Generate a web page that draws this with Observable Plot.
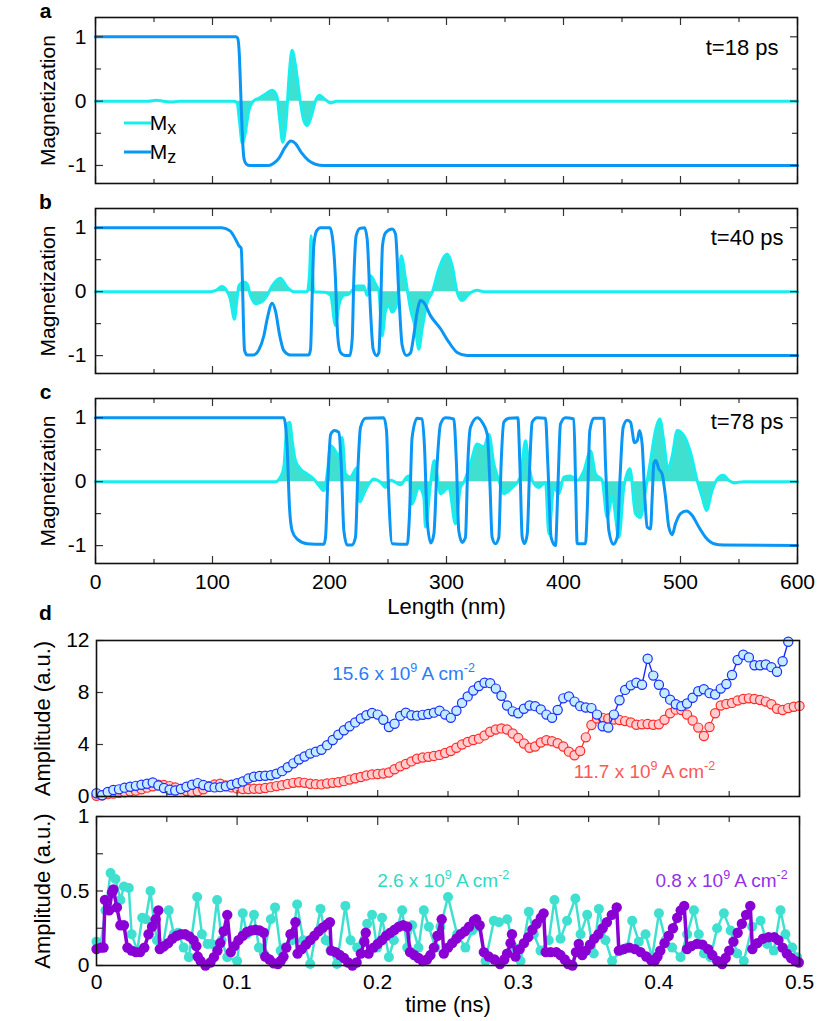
<!DOCTYPE html>
<html><head><meta charset="utf-8">
<script src="https://cdn.jsdelivr.net/npm/d3@7"></script>
<script src="https://cdn.jsdelivr.net/npm/@observablehq/plot@0.6"></script>
<style>
body{margin:0;background:#fff;}
#root{position:relative;width:821px;height:1021px;overflow:hidden;}
#root svg{position:absolute;left:0;}
</style></head><body><div id="root"></div>
<script>
// ---------------- data: panels a-c (length nm, magnetization) ----------------
const aMz = [[0,1],[120,1],[121.5,0.98],[123,0.7],[124,0.2],[125,-0.3],[126,-0.7],[127,-0.9],[129,-0.98],[132,-1],[148,-1],[152,-0.97],[157,-0.88],[162,-0.72],[167,-0.62],[171,-0.66],[176,-0.8],[182,-0.92],[188,-0.98],[195,-1],[600,-1]];
const aMx = [[0,0],[45,0],[52,0.015],[58,0],[65,-0.015],[72,0],[118,0],[121,-0.02],[123,-0.3],[125.5,-0.66],[128,-0.5],[131,-0.15],[135,0],[140,0.05],[146,0.12],[151,0.17],[155,0.08],[157.5,-0.3],[160,-0.64],[163,-0.3],[165.5,0.4],[168,0.79],[171,0.55],[175,0],[178,-0.3],[181,-0.38],[185,-0.2],[188,0],[191.5,0.09],[196,0.03],[201,-0.03],[206,0],[600,0]];

const bMz = [[0,1],[108,1],[115,0.95],[119.7,0.82],[122.5,0.72],[124.5,0.68],[127.4,-0.92],[129.6,-0.99],[135,-0.99],[139.6,-0.91],[143.9,-0.69],[146.7,-0.43],[151,-0.18],[153.8,-0.3],[157.5,-0.69],[160.9,-0.92],[166.7,-0.99],[182.3,-0.99],[183.8,-0.9],[185.2,-0.06],[186.6,0.72],[189,0.95],[192.3,1],[200.3,1],[202.3,0.875],[205.1,0.2],[207,-0.69],[209.4,-0.95],[213.7,-1],[217.4,-1],[219.4,-0.74],[220.8,0.2],[222.8,0.875],[226,0.99],[230,1],[232.2,0.82],[235.1,-0.32],[237.3,-0.9],[240.2,-1],[242.2,-0.95],[243.6,-0.32],[245.3,0.72],[247.9,0.92],[253.6,0.98],[256.4,0.9],[259.3,-0.06],[262.1,-0.84],[265.8,-1],[269.2,-0.96],[272,-0.69],[274.9,-0.32],[277.8,-0.14],[280.6,-0.17],[286.3,-0.375],[294.9,-0.58],[302,-0.79],[309.1,-0.95],[317.7,-1],[600,-1]];
const bMx = [[0,0],[98.3,0],[103,0.02],[108,0.08],[112,0.02],[115,-0.1],[118.8,-0.43],[120.5,-0.2],[122.5,0.09],[126.8,0.15],[129.6,0.12],[132.5,-0.06],[136.8,-0.19],[141,-0.17],[146.7,-0.06],[151,0.09],[158,0.21],[163.8,0.07],[169.5,0],[180.9,0],[183,0.3],[184.3,0.875],[185.5,0.3],[186.5,0],[195.7,-0.01],[201,-0.06],[205.1,-0.53],[208,-0.22],[212,-0.06],[216.4,-0.04],[223.6,0.09],[229.3,0.09],[232.2,-0.06],[235.1,0.25],[239.3,0.12],[242.2,0],[245,-0.69],[247.9,-0.3],[250.7,-0.22],[253.6,-0.32],[257.8,-0.17],[261.3,0.56],[265,0.2],[269.2,-0.27],[273.5,-0.58],[276.3,-0.9],[279.2,-0.58],[283.5,-0.17],[287.8,-0.01],[293.4,0.35],[300.6,0.59],[304.8,0.41],[309.1,-0.01],[313.4,-0.14],[319,-0.04],[326.2,0.02],[332,0],[600,0]];

const cMz = [[0,1],[160.9,1],[163.8,0.54],[165.8,-0.4],[168.1,-0.77],[172.4,-0.9],[180.9,-0.97],[195.2,-0.98],[196.6,-0.87],[198.6,0.02],[201,0.74],[204.3,0.8],[208,0.77],[210,0.28],[212.3,-0.77],[215.1,-0.99],[219.4,-0.99],[222.2,-0.87],[224.5,0.28],[226.5,0.85],[230.8,0.99],[246.4,1],[248.7,0.8],[250.7,-0.24],[253.6,-0.97],[266.5,-0.98],[268.4,-0.5],[270.6,0.69],[274.9,0.99],[279.2,0.98],[281.2,0.54],[283.5,-0.61],[286.6,-0.96],[289.2,-0.82],[292,0.28],[294.9,0.9],[299.1,1],[306.2,0.98],[308.5,0.28],[310.5,-0.77],[313.4,-0.95],[316.2,-0.87],[318.2,0.28],[320.5,0.85],[326.2,1],[330.5,0.93],[334.8,0.74],[337,0.02],[339,-0.87],[341.9,-0.97],[344.7,-0.87],[346.7,0.28],[349,0.93],[353.3,0.99],[361,1],[362.7,0.28],[364.7,-0.87],[366.7,-0.97],[369,-0.82],[371.2,0.28],[373.2,0.93],[377.5,1],[384.6,0.99],[386.6,0.28],[389.4,-0.87],[393.1,-1],[395.4,0.02],[397.4,0.9],[401.7,1],[408.8,0.98],[410.3,0.02],[411.7,-0.97],[418.8,-0.97],[420.2,-0.5],[422.5,0.8],[425.9,0.99],[434.5,0.99],[435.9,0.28],[438.8,-0.77],[442.5,-0.98],[445.9,-0.87],[448.2,0.02],[451,0.85],[454.4,0.96],[457.3,0.93],[460.7,0.61],[463,0.64],[465,0.8],[467.2,0.59],[469.5,-0.24],[471.5,-0.71],[474.4,-0.74],[475.8,-0.24],[477.2,0.28],[478.9,0.33],[481.5,0.2],[484.3,0.12],[487.2,-0.24],[490,-0.71],[492.9,-0.83],[495.7,-0.66],[500,-0.5],[505.1,-0.46],[510,-0.53],[515.7,-0.71],[521.4,-0.87],[528.5,-0.97],[537.1,-0.99],[600,-1]];
const cMx = [[0,0],[153.8,0],[158,0.07],[160.9,0.22],[163.8,0.9],[166,0.93],[168.1,0.64],[170.9,0.33],[175.2,0.2],[180.9,0.12],[186.6,0.04],[190.9,-0.06],[195.2,-0.14],[198,0.12],[201,0.56],[205.1,0.48],[208,0.38],[210.8,0.69],[213.7,0.12],[218,0.07],[220.8,0.15],[223.6,0.22],[225.9,-0.32],[229.3,-0.19],[233.6,-0.04],[237.9,0.04],[243.6,-0.01],[247.9,-0.09],[252.1,0.02],[256.4,-0.01],[260.7,-0.05],[265.8,0.07],[267.8,0.09],[270.6,-0.35],[276.3,-0.09],[280.6,-0.24],[282,-0.71],[286.3,-0.04],[289.5,0.33],[294.9,-0.19],[302,-0.09],[307.7,-0.66],[312,-0.09],[314.8,-0.01],[320.5,0.28],[326.2,0.59],[332,0.54],[336.2,0.74],[340.5,0.28],[344.8,0.02],[349,-0.19],[356.2,-0.09],[363.2,0.07],[367.5,0.64],[370.3,0.28],[373.2,0.02],[379,-0.09],[384.6,-0.01],[387.5,-0.82],[391.7,-0.09],[396,-0.19],[400.3,0.07],[406,0.09],[411.7,0.02],[417.4,0.17],[423.1,0.48],[427.4,0.12],[433,0.02],[437.3,-0.56],[441.6,-0.24],[447.4,-0.87],[451.6,-0.09],[456.8,0.2],[461.5,-0.5],[465.8,-0.56],[470.1,-0.14],[474.4,0.33],[478.6,0.8],[482.3,0.98],[485.7,0.64],[489.2,0.2],[492.9,0.4],[497.2,0.8],[502.9,0.72],[508.5,0.46],[514.2,0.02],[518.5,-0.24],[522.2,-0.45],[527,-0.14],[531.3,0.04],[536.5,0.1],[541.3,0.02],[545.6,-0.02],[554,0],[600,0]];

// ---------------- data: panel d ----------------
const dStep = 0.004; // sampling of the amplitude traces (ns)
const amp156 = [0.25,0.1,0.35,0.5,0.55,0.68,0.75,0.82,0.9,0.98,
1.08,0.85,0.65,0.52,0.46,0.58,0.75,0.9,1.03,0.88,
0.75,0.7,0.72,0.78,0.9,1.02,1.15,1.38,1.52,1.58,
1.6,1.63,1.75,1.95,2.25,2.55,2.85,3.08,3.3,3.45,
3.6,3.95,4.35,4.75,5.1,5.4,5.7,6.0,6.25,6.42,
6.3,5.9,5.35,5.6,6.2,6.45,6.25,6.22,6.28,6.35,
6.45,6.6,6.3,6.05,6.6,7.2,7.7,8.15,8.5,8.75,
8.72,8.3,7.75,7.0,6.55,6.4,6.75,7.0,6.95,6.7,
6.3,6.05,6.65,7.55,7.7,7.3,6.95,6.85,6.8,6.3,
5.4,5.3,6.3,7.4,8.2,8.55,8.75,8.6,10.6,9.3,
8.6,7.95,7.45,7.1,6.95,7.15,7.6,8.1,8.25,7.95,
7.85,8.3,8.65,9.35,10.5,10.9,10.7,10.1,10.1,10.15,
9.95,9.6,10.4,11.9];
const amp117 = [0.05,0.1,0.18,0.22,0.28,0.33,0.4,0.45,0.55,0.68,
0.78,0.9,0.88,0.8,0.7,0.58,0.42,0.33,0.4,0.55,
0.8,0.92,0.98,0.85,0.7,0.62,0.58,0.58,0.6,0.6,
0.65,0.72,0.8,0.87,0.97,1.05,1.1,1.05,0.98,0.95,
0.93,1.0,1.05,1.1,1.18,1.3,1.4,1.5,1.62,1.7,
1.73,1.77,1.85,2.1,2.32,2.5,2.7,2.9,3.0,3.05,
3.12,3.2,3.35,3.5,3.75,4.0,4.2,4.35,4.45,4.7,
4.98,5.15,5.24,5.15,4.85,4.5,4.08,3.75,3.85,4.15,
4.33,4.25,4.1,3.85,3.45,3.17,3.5,4.55,5.5,6.0,
6.05,6.0,5.92,5.88,5.8,5.7,5.52,5.55,5.58,5.52,
5.55,5.9,6.4,6.68,6.65,6.3,5.85,5.3,4.65,5.35,
6.4,7.0,7.12,7.2,7.38,7.5,7.55,7.5,7.42,7.3,
7.1,6.75,6.65,6.8,6.9,6.97];
const amp26 = [[0,0.16],[0.003,0.145],[0.0064,0.37],[0.010,0.62],[0.0135,0.58],[0.017,0.44],[0.0195,0.53],[0.023,0.52],[0.025,0.21],[0.029,0.1],[0.0325,0.32],[0.035,0.31],[0.0384,0.5],[0.041,0.28],[0.043,0.17],[0.047,0.12],[0.0514,0.37],[0.055,0.21],[0.058,0.22],[0.062,0.12],[0.0657,0.056],[0.0716,0.46],[0.075,0.21],[0.079,0.145],[0.082,0.145],[0.0858,0.44],[0.089,0.17],[0.093,0.056],[0.1,0.03],[0.104,0.35],[0.107,0.21],[0.112,0.34],[0.1155,0.12],[0.119,0.08],[0.124,0.31],[0.127,0.39],[0.131,0.10],[0.134,0.12],[0.1392,0.17],[0.1427,0.41],[0.147,0.17],[0.152,0.01],[0.1593,0.38],[0.163,0.17],[0.1664,0.10],[0.171,0.01],[0.177,0.40],[0.1807,0.17],[0.1854,0.12],[0.1925,0.28],[0.196,0.34],[0.1996,0.12],[0.2031,0.32],[0.208,0.056],[0.2115,0.17],[0.2174,0.37],[0.221,0.12],[0.2245,0.27],[0.229,0.12],[0.2328,0.37],[0.2364,0.26],[0.241,0.12],[0.2446,0.26],[0.25,0.46],[0.2565,0.21],[0.2624,0.12],[0.2672,0.235],[0.272,0.26],[0.2767,0.03],[0.2826,0.30],[0.2862,0.29],[0.2921,0.31],[0.2968,0.12],[0.3016,0.03],[0.3075,0.36],[0.311,0.21],[0.3158,0.10],[0.3217,0.17],[0.3257,0.44],[0.33,0.18],[0.3347,0.30],[0.3406,0.45],[0.3443,0.21],[0.349,0.34],[0.3537,0.08],[0.3573,0.38],[0.362,0.17],[0.3667,0.03],[0.3727,0.10],[0.3774,0.12],[0.381,0.30],[0.3857,0.16],[0.3905,0.21],[0.3952,0.056],[0.4,0.35],[0.4047,0.17],[0.4094,0.12],[0.4154,0.056],[0.4201,0.21],[0.4249,0.37],[0.4284,0.21],[0.432,0.08],[0.4367,0.056],[0.4414,0.25],[0.4462,0.35],[0.451,0.235],[0.4557,0.08],[0.4604,0.03],[0.4663,0.26],[0.4723,0.30],[0.477,0.145],[0.4817,0.10],[0.4865,0.37],[0.49,0.21],[0.4948,0.12],[0.4983,0.056]];
const amp08 = [[0,0.11],[0.003,0.12],[0.005,0.12],[0.006,0.44],[0.009,0.37],[0.011,0.49],[0.012,0.51],[0.0145,0.39],[0.017,0.27],[0.0195,0.27],[0.022,0.12],[0.025,0.10],[0.028,0.09],[0.031,0.09],[0.034,0.12],[0.037,0.21],[0.0395,0.26],[0.042,0.31],[0.044,0.37],[0.045,0.11],[0.048,0.13],[0.051,0.15],[0.054,0.18],[0.057,0.20],[0.060,0.21],[0.063,0.21],[0.066,0.195],[0.069,0.17],[0.071,0.13],[0.072,0.06],[0.074,0.03],[0.0775,0.0],[0.081,0.02],[0.0835,0.056],[0.086,0.10],[0.088,0.15],[0.0905,0.23],[0.093,0.34],[0.0955,0.09],[0.098,0.13],[0.101,0.17],[0.104,0.2],[0.107,0.225],[0.110,0.235],[0.113,0.24],[0.116,0.235],[0.119,0.22],[0.120,0.06],[0.123,0.04],[0.126,0.015],[0.129,0.01],[0.131,0.03],[0.133,0.06],[0.135,0.12],[0.138,0.21],[0.1415,0.29],[0.143,0.08],[0.146,0.11],[0.149,0.14],[0.152,0.17],[0.155,0.20],[0.158,0.23],[0.161,0.255],[0.164,0.275],[0.166,0.29],[0.167,0.10],[0.170,0.09],[0.173,0.07],[0.176,0.05],[0.179,0.02],[0.182,0.0],[0.185,0.02],[0.188,0.08],[0.1905,0.16],[0.1915,0.22],[0.1935,0.08],[0.197,0.12],[0.200,0.145],[0.203,0.17],[0.206,0.2],[0.209,0.22],[0.212,0.24],[0.215,0.26],[0.218,0.27],[0.221,0.26],[0.223,0.09],[0.226,0.07],[0.229,0.05],[0.232,0.03],[0.235,0.04],[0.2375,0.07],[0.240,0.12],[0.2425,0.2],[0.2455,0.31],[0.247,0.08],[0.250,0.12],[0.253,0.15],[0.256,0.18],[0.259,0.21],[0.262,0.23],[0.265,0.26],[0.2685,0.30],[0.270,0.31],[0.2725,0.27],[0.2755,0.09],[0.279,0.06],[0.283,0.04],[0.287,0.01],[0.290,0.04],[0.292,0.08],[0.2945,0.15],[0.2955,0.21],[0.298,0.06],[0.301,0.11],[0.304,0.15],[0.307,0.19],[0.310,0.24],[0.313,0.28],[0.316,0.32],[0.318,0.35],[0.3195,0.09],[0.323,0.09],[0.327,0.09],[0.330,0.07],[0.333,0.04],[0.3355,0.01],[0.3385,0.0],[0.341,0.09],[0.343,0.145],[0.3455,0.07],[0.348,0.10],[0.351,0.14],[0.354,0.18],[0.357,0.21],[0.360,0.25],[0.363,0.29],[0.3665,0.34],[0.370,0.39],[0.3715,0.10],[0.375,0.11],[0.379,0.12],[0.383,0.11],[0.387,0.09],[0.391,0.06],[0.3945,0.035],[0.397,0.03],[0.399,0.06],[0.401,0.10],[0.404,0.15],[0.407,0.2],[0.410,0.25],[0.413,0.32],[0.4155,0.37],[0.418,0.40],[0.420,0.11],[0.423,0.13],[0.427,0.145],[0.431,0.14],[0.435,0.11],[0.438,0.07],[0.4415,0.03],[0.445,0.01],[0.4475,0.05],[0.450,0.10],[0.453,0.16],[0.456,0.22],[0.459,0.28],[0.462,0.34],[0.465,0.40],[0.4665,0.11],[0.470,0.15],[0.474,0.18],[0.478,0.19],[0.482,0.19],[0.485,0.17],[0.488,0.12],[0.491,0.08],[0.494,0.05],[0.497,0.03],[0.4995,0.02]];

// ---------------- tick values / labels ----------------
const lenLabels = [0,100,200,300,400,500,600];
const lenMinor = [50,150,250,350,450,550];
const magLabels = [-1,0,1];
const magMinor = [-0.5,0.5];
const timeLabels = [0,0.1,0.2,0.3,0.4,0.5];
const timeMinor = [0.05,0.15,0.25,0.35,0.45];
const ampTopLabels = [0,4,8,12];
const ampBotLabels = [0,0.5,1];
const ampBotMinor = [0.25,0.75];

// ---------------- drawing ----------------
const FONT = '"Liberation Sans", Arial, Helvetica, sans-serif';
const W = 821;
const root = document.getElementById("root");
const X = d => d[0], Y = d => d[1];
const C_MX = "#19eeee", C_MZ = "#0a96f5", C_FILL = "#40e0d0";
const MID = {textAnchor: "middle", lineAnchor: "middle"};

function place(svg, top){ svg.style.top = top + "px"; root.appendChild(svg); return svg; }
function tk(axis, anchor, values, size){
  const f = axis === "x" ? Plot.axisX : Plot.axisY;
  return f(values, {anchor, tickSize: -size, tickFormat: () => "", label: null, stroke: "#333", strokeWidth: 1.2});
}
function applySup(svg, fs){
  d3.select(svg).selectAll("text").each(function(){
    const s = this.textContent;
    if (!s.includes("^{")) return;
    const parts = s.split(/\^\{([^}]*)\}/);
    this.textContent = "";
    let raised = false;
    parts.forEach((p, i) => {
      if (!p) return;
      const ts = document.createElementNS("http://www.w3.org/2000/svg", "tspan");
      if (i % 2) { ts.setAttribute("font-size", fs * 0.66); ts.setAttribute("dy", -0.42 * fs); raised = true; }
      else if (raised) { ts.setAttribute("dy", 0.42 * fs); raised = false; }
      ts.textContent = p;
      this.appendChild(ts);
    });
  });
}

function magPanel({mz, mx, letter, tlabel, tdx, tdy, height, mt, mb, showX}){
  const marks = [
    Plot.areaY(mx, {x: X, y1: 0, y2: Y, fill: C_FILL, curve: "monotone-x"}),
    Plot.line(mx, {x: X, y: Y, stroke: C_MX, strokeWidth: 3, curve: "monotone-x"}),
    Plot.line(mz, {x: X, y: Y, stroke: C_MZ, strokeWidth: 3, curve: "monotone-x"}),
    tk("x","bottom",lenLabels,7), tk("x","bottom",lenMinor,4),
    tk("x","top",lenLabels,7), tk("x","top",lenMinor,4),
    tk("y","left",magLabels,8), tk("y","left",magMinor,6),
    tk("y","right",magLabels,8), tk("y","right",magMinor,6),
    Plot.axisY(magLabels, {anchor: "left", tickSize: 0, tickPadding: 9, fontSize: 21, tickFormat: d => String(d), label: null}),
    Plot.frame({stroke: "#111", strokeWidth: 1.6}),
    Plot.text([letter], {text: d => d, frameAnchor: "top-left", textAnchor: "middle", lineAnchor: "middle", dx: -50, dy: -6, fontWeight: "bold", fontSize: 21}),
    Plot.text(["Magnetization"], {text: d => d, frameAnchor: "left", ...MID, dx: -47, rotate: -90, fontSize: 21}),
    Plot.text([tlabel], {text: d => d, frameAnchor: "top-right", textAnchor: "end", lineAnchor: "middle", dx: tdx, dy: tdy, fontSize: 22})
  ];
  if (showX) marks.push(
    Plot.axisX(lenLabels, {anchor: "bottom", tickSize: 0, tickPadding: 11, fontSize: 21, tickFormat: d => String(d), label: null}),
    Plot.text(["Length (nm)"], {text: d => d, frameAnchor: "bottom", ...MID, dy: 43, fontSize: 22})
  );
  return Plot.plot({width: W, height, marginTop: mt, marginBottom: mb, marginLeft: 95, marginRight: 24,
    x: {domain: [0, 600]}, y: {domain: [-1.28, 1.30]},
    style: {fontFamily: FONT, background: "transparent", overflow: "visible", color: "#000"}, marks});
}

const svgA = place(magPanel({mz: aMz, mx: aMx, letter: "a", tlabel: "t=18 ps", tdx: -19, tdy: 30, height: 200, mt: 17, mb: 17}), 0);
place(magPanel({mz: bMz, mx: bMx, letter: "b", tlabel: "t=40 ps", tdx: -14, tdy: 29, height: 200, mt: 20, mb: 15}), 188);
place(magPanel({mz: cMz, mx: cMx, letter: "c", tlabel: "t=78 ps", tdx: -14, tdy: 23, height: 240, mt: 20, mb: 55, showX: true}), 378);

// legend for panel a
{
  const s = d3.select(svgA);
  const items = [{name: "x", color: C_MX, y: 123}, {name: "z", color: C_MZ, y: 152}];
  for (const it of items) {
    s.append("line").attr("x1", 124).attr("x2", 151).attr("y1", it.y).attr("y2", it.y)
      .attr("stroke", it.color).attr("stroke-width", 3);
    const t = s.append("text").attr("x", 163).attr("y", it.y + 7).attr("font-family", FONT).attr("font-size", 21).attr("fill", "#000");
    t.append("tspan").text("M");
    t.append("tspan").attr("font-size", 18).attr("dy", 4).text(it.name);
  }
}

// panel d (top): large currents
const blue = amp156.map((v, i) => ({t: i * dStep, a: v}));
const red = amp117.map((v, i) => ({t: i * dStep, a: v}));
const annTop = [
  {t: 0.1676, a: 9.4, text: "15.6 x 10^{9} A cm^{-2}", color: "#2b7cf6"},
  {t: 0.3395, a: 1.88, text: "11.7 x 10^{9} A cm^{-2}", color: "#ff5757"}
];
const svgD1 = place(Plot.plot({width: W, height: 180, marginTop: 20, marginBottom: 4, marginLeft: 96, marginRight: 22,
  x: {domain: [0, 0.5]}, y: {domain: [0, 12]},
  style: {fontFamily: FONT, background: "transparent", overflow: "visible", color: "#000"},
  marks: [
    Plot.line(red, {x: "t", y: "a", stroke: "#ff2a2a", strokeWidth: 1.2}),
    Plot.dot(red, {x: "t", y: "a", r: 4.6, stroke: "#ff2a2a", fill: "#ffcdcd", strokeWidth: 1.2}),
    Plot.line(blue, {x: "t", y: "a", stroke: "#1b2cff", strokeWidth: 1.4}),
    Plot.dot(blue, {x: "t", y: "a", r: 4.6, stroke: "#1b2cff", fill: "#c4ecff", strokeWidth: 1.2}),
    tk("x","bottom",timeLabels,6), tk("x","bottom",timeMinor,5),
    tk("y","left",ampTopLabels,7),
    Plot.axisY(ampTopLabels, {anchor: "left", tickSize: 0, tickPadding: 7, fontSize: 21, tickFormat: d => String(d), label: null}),
    Plot.frame({stroke: "#111", strokeWidth: 1.6}),
    Plot.text(annTop, {x: "t", y: "a", text: "text", fill: "color", textAnchor: "start", fontSize: 19}),
    Plot.text(["d"], {text: d => d, frameAnchor: "top-left", textAnchor: "middle", lineAnchor: "middle", dx: -51, dy: -27, fontWeight: "bold", fontSize: 21}),
    Plot.text(["Amplitude (a.u.)"], {text: d => d, frameAnchor: "left", ...MID, dx: -54, rotate: -90, fontSize: 22})
  ]}), 620);
applySup(svgD1, 19);

// panel d (bottom): small currents
const annBot = [
  {t: 0.1996, a: 0.57, text: "2.6 x 10^{9} A cm^{-2}", color: "#2fd9c2"},
  {t: 0.3976, a: 0.57, text: "0.8 x 10^{9} A cm^{-2}", color: "#9430ea"}
];
const svgD2 = place(Plot.plot({width: W, height: 225, marginTop: 20, marginBottom: 56, marginLeft: 96, marginRight: 22,
  x: {domain: [0, 0.5]}, y: {domain: [0, 1]},
  style: {fontFamily: FONT, background: "transparent", overflow: "visible", color: "#000"},
  marks: [
    Plot.line(amp26, {x: X, y: Y, stroke: C_FILL, strokeWidth: 2.5}),
    Plot.dot(amp26, {x: X, y: Y, r: 5, fill: C_FILL}),
    Plot.line(amp08, {x: X, y: Y, stroke: "#8a00d4", strokeWidth: 3.5}),
    Plot.dot(amp08, {x: X, y: Y, r: 5.2, fill: "#8a00d4"}),
    tk("x","top",timeLabels,8), tk("x","top",timeMinor,5),
    tk("y","left",ampBotLabels,7), tk("y","left",ampBotMinor,7),
    Plot.axisY(ampBotLabels, {anchor: "left", tickSize: 0, tickPadding: 7, fontSize: 21, tickFormat: d => String(d), label: null}),
    Plot.axisX(timeLabels, {anchor: "bottom", tickSize: 0, tickPadding: 9, fontSize: 21, tickFormat: d => String(d), label: null}),
    Plot.frame({stroke: "#111", strokeWidth: 1.6}),
    Plot.text(annBot, {x: "t", y: "a", text: "text", fill: "color", textAnchor: "start", fontSize: 19}),
    Plot.text(["Amplitude (a.u.)"], {text: d => d, frameAnchor: "left", ...MID, dx: -54, rotate: -90, fontSize: 22}),
    Plot.text(["time (ns)"], {text: d => d, frameAnchor: "bottom", ...MID, dy: 39, fontSize: 22})
  ]}), 796);
applySup(svgD2, 19);
</script></body></html>
